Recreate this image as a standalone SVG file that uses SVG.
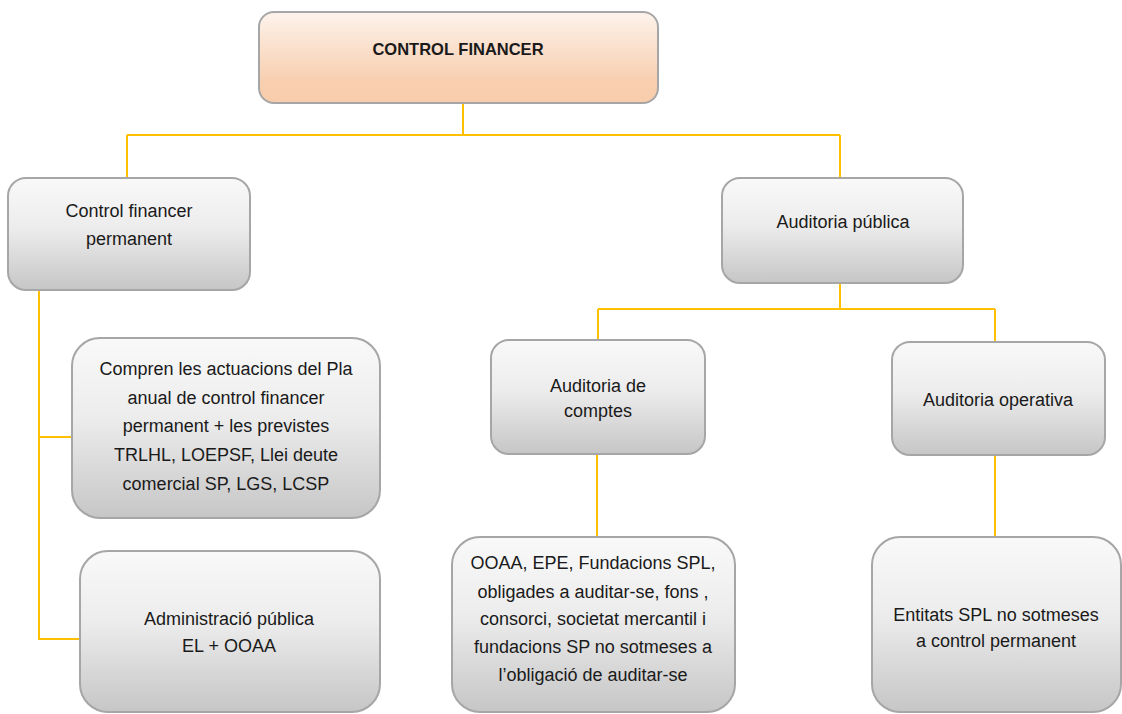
<svg xmlns="http://www.w3.org/2000/svg" width="1122" height="714" viewBox="0 0 1122 714">
<defs>
<linearGradient id="g" x1="0" y1="0" x2="0" y2="1">
<stop offset="0" stop-color="#f9f9f9"/>
<stop offset="0.45" stop-color="#ececec"/>
<stop offset="1" stop-color="#c6c6c6"/>
</linearGradient>
<linearGradient id="o" x1="0" y1="0" x2="0" y2="1">
<stop offset="0" stop-color="#fdf3ec"/>
<stop offset="0.75" stop-color="#f8cfb0"/>
<stop offset="1" stop-color="#f8cdac"/>
</linearGradient>
<style>
.box{fill:url(#g);stroke:#a6a6a6;stroke-width:2}
.top{fill:url(#o);stroke:#a6a6a6;stroke-width:2}
text{font-family:"Liberation Sans",Arial,sans-serif;font-size:18px;fill:#1a1a1a;text-anchor:middle}
.b{font-weight:bold;font-size:16.5px}
.c{fill:none;stroke:#ffc000;stroke-width:2}
</style>
</defs>
<rect width="1122" height="714" fill="#ffffff"/>
<g id="connectors">
<path class="c" d="M463 103V135M127 135H840M127 135V178M840 135V178"/>
<path class="c" d="M840 283V309M598 309H995M598 309V340M995 309V342"/>
<path class="c" d="M39 290V639H80M39 437H72"/>
<path class="c" d="M597 454V537M995 455V537"/>
</g>
<g id="n-control-financer">
<rect class="top" x="259" y="12" width="399" height="91" rx="15"/>
<text class="b" x="458" y="55">CONTROL FINANCER</text>
</g>
<g id="n-permanent">
<rect class="box" x="8" y="178" width="242" height="112" rx="18"/>
<text x="129" y="217">Control financer</text>
<text x="129" y="245">permanent</text>
</g>
<g id="n-auditoria-publica">
<rect class="box" x="722" y="178" width="241" height="105" rx="18"/>
<text x="843" y="228">Auditoria pública</text>
</g>
<g id="n-compren">
<rect class="box" x="72" y="338" width="308" height="180" rx="28"/>
<text x="226" y="375">Compren les actuacions del Pla</text>
<text x="226" y="404">anual de control financer</text>
<text x="226" y="432">permanent + les previstes</text>
<text x="226" y="461">TRLHL, LOEPSF, Llei deute</text>
<text x="226" y="490">comercial SP, LGS, LCSP</text>
</g>
<g id="n-administracio">
<rect class="box" x="80" y="551" width="300" height="161" rx="28"/>
<text x="229" y="625">Administració pública</text>
<text x="229" y="652">EL + OOAA</text>
</g>
<g id="n-auditoria-comptes">
<rect class="box" x="491" y="340" width="214" height="114" rx="18"/>
<text x="598" y="392">Auditoria de</text>
<text x="598" y="417">comptes</text>
</g>
<g id="n-auditoria-operativa">
<rect class="box" x="892" y="342" width="213" height="113" rx="18"/>
<text x="998" y="406">Auditoria operativa</text>
</g>
<g id="n-ooaa">
<rect class="box" x="452" y="537" width="283" height="175" rx="28"/>
<text x="593" y="569">OOAA, EPE, Fundacions SPL,</text>
<text x="593" y="598">obligades a auditar-se, fons ,</text>
<text x="593" y="625">consorci, societat mercantil i</text>
<text x="593" y="653">fundacions SP no sotmeses a</text>
<text x="593" y="681">l’obligació de auditar-se</text>
</g>
<g id="n-entitats">
<rect class="box" x="872" y="537" width="249" height="175" rx="28"/>
<text x="996" y="621">Entitats SPL no sotmeses</text>
<text x="996" y="647">a control permanent</text>
</g>
</svg>
